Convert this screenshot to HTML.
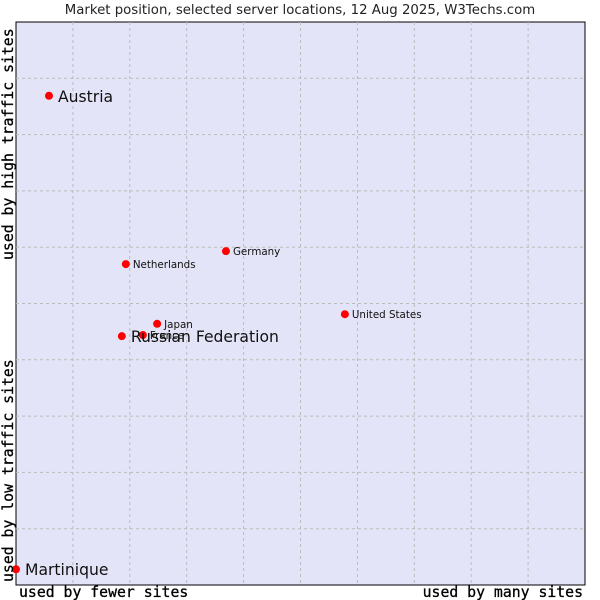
<!DOCTYPE html>
<html><head><meta charset="utf-8"><style>
body{margin:0;background:#fff;width:600px;height:600px;overflow:hidden}
svg{display:block}
</style></head><body>
<svg id="c" width="600" height="600" xmlns="http://www.w3.org/2000/svg">
<text x="300" y="14" text-anchor="middle" font-family="DejaVu Sans, sans-serif" font-size="13.3" fill="#222">Market position, selected server locations, 12 Aug 2025, W3Techs.com</text>
<rect x="16" y="22" width="569" height="563" fill="#e4e4f8" stroke="#000" stroke-width="1"/>
<g id="grid"></g>
<g id="pts"></g>
<text x="19" y="597" font-family="DejaVu Sans Mono, monospace" font-size="14.8" fill="#000" stroke="#000" stroke-width="0.3">used by fewer sites</text>
<text x="583" y="597" text-anchor="end" font-family="DejaVu Sans Mono, monospace" font-size="14.8" fill="#000" stroke="#000" stroke-width="0.3">used by many sites</text>
<text transform="translate(13,260) rotate(-90)" font-family="DejaVu Sans Mono, monospace" font-size="14.8" fill="#000" stroke="#000" stroke-width="0.3">used by high traffic sites</text>
<text transform="translate(13,582) rotate(-90)" font-family="DejaVu Sans Mono, monospace" font-size="14.8" fill="#000" stroke="#000" stroke-width="0.3">used by low traffic sites</text>
</svg>
<script>
const countries=["Austria","Netherlands","Germany","United States","Japan","France","Russian Federation","Martinique"];
const xValues=[5.8,19.3,36.9,57.8,24.8,22.3,18.6,0];
const yValues=[86.9,57.0,59.3,48.1,46.4,44.4,44.2,2.8];
const bigLabel=[true,false,false,false,false,false,true,true];
const NS="http://www.w3.org/2000/svg";
const L=16,T=22,W=569,H=563;
const xs=v=>L+v/100*W, ys=v=>T+H-v/100*H;
const g=document.getElementById('grid');
for(let i=1;i<10;i++){
  const a=document.createElementNS(NS,'line');
  
  
  const x=L+i*W/10;
  a.setAttribute('x1',x);a.setAttribute('x2',x);a.setAttribute('y1',T);a.setAttribute('y2',T+H);
  a.setAttribute('stroke','#bbb');a.setAttribute('stroke-dasharray','3,3');g.appendChild(a);
  const b=document.createElementNS(NS,'line');
  
  
  const y=T+i*H/10;
  b.setAttribute('x1',L);b.setAttribute('x2',L+W);b.setAttribute('y1',y);b.setAttribute('y2',y);
  b.setAttribute('stroke','#bbb');b.setAttribute('stroke-dasharray','3,3');g.appendChild(b);
}
const p=document.getElementById('pts');
countries.forEach((c,i)=>{
  const x=xs(xValues[i]),y=ys(yValues[i]);
  const d=document.createElementNS(NS,'circle');
  
  
  d.setAttribute('cx',x);d.setAttribute('cy',y);d.setAttribute('r',4);d.setAttribute('fill','#f00');
  p.appendChild(d);
  const t=document.createElementNS(NS,'text');
  
  
  t.setAttribute('x',x+(bigLabel[i]?9:7));
  t.setAttribute('y',y+(bigLabel[i]?6:4));
  t.setAttribute('font-family','DejaVu Sans, sans-serif');
  t.setAttribute('font-size',bigLabel[i]?15.6:10.3);
  t.setAttribute('fill','#111');
  t.textContent=c;
  p.appendChild(t);
});
</script>
</body></html>
